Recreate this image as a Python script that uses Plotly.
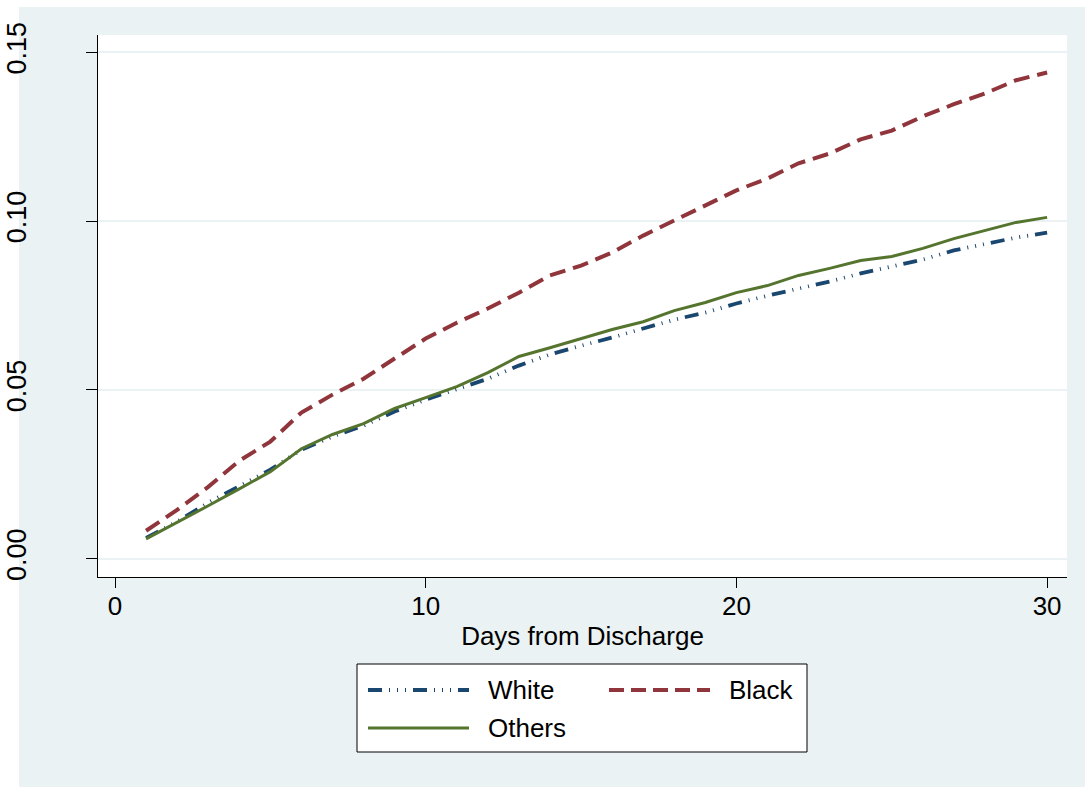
import plotly.graph_objects as go

# ---------------- data ----------------
days = list(range(1, 31))
series_names = ["White", "Black", "Others"]
white = [0.0062, 0.0110, 0.0166, 0.0216, 0.0264, 0.0323, 0.0362, 0.0394, 0.0436, 0.0471,
         0.0501, 0.0533, 0.0572, 0.0605, 0.0631, 0.0655, 0.0682, 0.0708, 0.0729, 0.0756,
         0.0779, 0.0800, 0.0821, 0.0845, 0.0865, 0.0886, 0.0913, 0.0931, 0.0951, 0.0966]
black = [0.0083, 0.0145, 0.0213, 0.0290, 0.0347, 0.0433, 0.0486, 0.0533, 0.0593, 0.0652,
         0.0699, 0.0741, 0.0788, 0.0839, 0.0868, 0.0907, 0.0957, 0.1002, 0.1046, 0.1091,
         0.1126, 0.1171, 0.1200, 0.1242, 0.1268, 0.1310, 0.1346, 0.1378, 0.1417, 0.1440]
others = [0.0059, 0.0107, 0.0157, 0.0207, 0.0258, 0.0326, 0.0368, 0.0400, 0.0445, 0.0477,
          0.0510, 0.0551, 0.0599, 0.0625, 0.0652, 0.0679, 0.0702, 0.0735, 0.0759, 0.0788,
          0.0809, 0.0839, 0.0860, 0.0883, 0.0895, 0.0919, 0.0948, 0.0972, 0.0996, 0.1011]
x_ticks = [0, 10, 20, 30]
y_ticks = [0.0, 0.05, 0.10, 0.15]
y_tick_labels = ["0.00", "0.05", "0.10", "0.15"]
x_title = "Days from Discharge"

# ---------------- styles ----------------
W, H = 1085, 787
ML, MR, MT, MB = 98, 18, 35, 210
PW, PH = W - ML - MR, H - MT - MB
BG = "#eaf2f3"
FONT = "Liberation Sans, Arial, sans-serif"
colors = ["#1a476f", "#90353b", "#55752f"]
dashes = ["14px,7px,1px,7px,1px,7px,1px,7px", "16px,8px", "solid"]
widths = [3.8, 4, 3]
values = [white, black, others]

fig = go.Figure()
for name, vals, c, d, w in zip(series_names, values, colors, dashes, widths):
    fig.add_trace(go.Scatter(x=days, y=vals, mode="lines", name=name,
                             line=dict(color=c, dash=d, width=w),
                             showlegend=False))

def px_x(p):
    return (p - ML) / PW

def px_y(p):
    return (H - MB - p) / PH

shapes = [
    # white strips at left and top (outside background)
    dict(type="rect", xref="paper", yref="paper", x0=px_x(0), x1=px_x(19), y0=px_y(H), y1=px_y(0),
         fillcolor="white", line=dict(width=0), layer="below"),
    dict(type="rect", xref="paper", yref="paper", x0=px_x(0), x1=px_x(W), y0=px_y(7), y1=px_y(0),
         fillcolor="white", line=dict(width=0), layer="below"),
    # legend box
    dict(type="rect", xref="paper", yref="paper", x0=px_x(357), x1=px_x(807), y0=px_y(752), y1=px_y(664),
         fillcolor="white", line=dict(color="black", width=1), layer="above"),
]
annotations = []
legend_pos = [(368, 690), (609, 690), (368, 728)]
for (lx, ly), name, c, d, w in zip(legend_pos, series_names, colors, dashes, widths):
    ldash = "15px,7px" if name == "Black" else d
    shapes.append(dict(type="line", xref="paper", yref="paper", x0=px_x(lx), x1=px_x(lx + 101),
                       y0=px_y(ly), y1=px_y(ly), line=dict(color=c, width=w, dash=ldash), layer="above"))
    annotations.append(dict(text=name, xref="paper", yref="paper", x=px_x(lx + 118), y=px_y(ly),
                            xanchor="left", yanchor="middle", showarrow=False,
                            font=dict(family=FONT, size=26, color="black")))

fig.update_layout(
    width=W, height=H,
    margin=dict(l=ML, r=MR, t=MT, b=MB, pad=0),
    paper_bgcolor=BG, plot_bgcolor="white",
    font=dict(family=FONT, size=26, color="black"),
    shapes=shapes, annotations=annotations,
    showlegend=False,
    xaxis=dict(range=[-0.547, 30.64], tickvals=x_ticks, ticks="outside", ticklen=10,
               tickwidth=1, tickcolor="black", showline=True, linecolor="black", linewidth=1,
               showgrid=False, zeroline=False, automargin=False, ticklabelstandoff=-4,
               tickfont=dict(family=FONT, size=26, color="black"),
               title=dict(text=x_title, standoff=6, font=dict(family=FONT, size=26, color="black"))),
    yaxis=dict(range=[-0.0054, 0.1551], tickvals=y_ticks, ticktext=y_tick_labels, ticks="outside",
               ticklen=11, tickwidth=1, tickcolor="black", showline=True, linecolor="black",
               linewidth=1, showgrid=True, gridcolor=BG, gridwidth=2, zeroline=False,
               tickangle=-90, automargin=False, ticklabelstandoff=49,
               tickfont=dict(family=FONT, size=27, color="black")),
)

fig.write_html("out.html", config={"displayModeBar": False},
               post_script="document.body.style.margin='0';")
